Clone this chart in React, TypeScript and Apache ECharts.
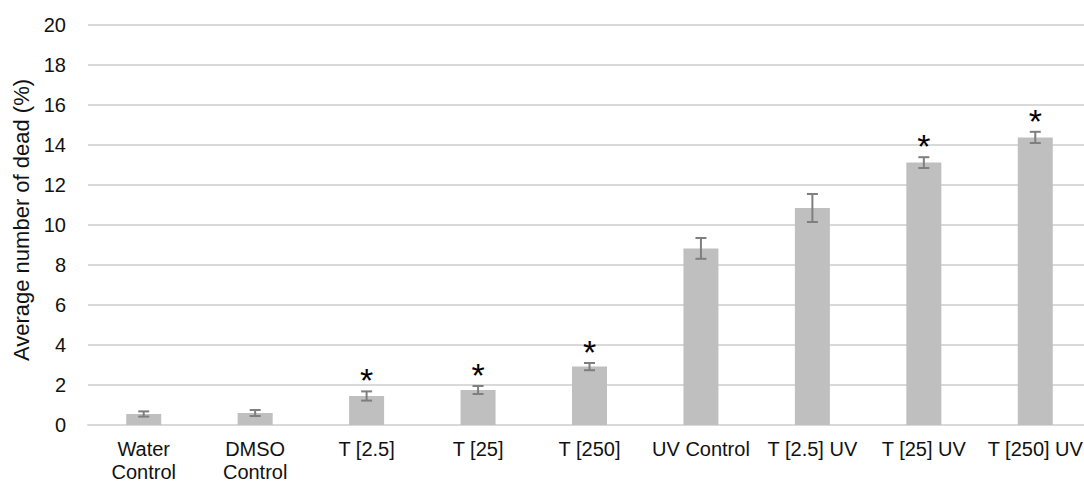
import React, { useEffect, useRef } from "react";
import * as echarts from "echarts";

const categories = [
  "Water\nControl",
  "DMSO\nControl",
  "T [2.5]",
  "T [25]",
  "T [250]",
  "UV Control",
  "T [2.5] UV",
  "T [25] UV",
  "T [250] UV",
];
const means = [0.55, 0.6, 1.45, 1.75, 2.92, 8.83, 10.85, 13.12, 14.38];
const errors = [0.13, 0.15, 0.23, 0.2, 0.18, 0.52, 0.7, 0.27, 0.28];
const significant = [false, false, true, true, true, false, false, true, true];
const yTicks = { min: 0, max: 20, interval: 2 };

const FONT = "Liberation Sans, Arial, sans-serif";

export default function App() {
  const ref = useRef<HTMLDivElement>(null);
  useEffect(() => {
    if (!ref.current) return;
    const chart = echarts.init(ref.current, undefined, { renderer: "svg" });
    const errData = means.map((m, i) => [i, m - errors[i], m + errors[i], significant[i] ? 1 : 0]);
    chart.setOption({
      animation: false,
      backgroundColor: "#ffffff",
      grid: {
        left: 88,
        right: -7,
        top: 25,
        bottom: 57,
        containLabel: false,
        outerBoundsMode: "none",
      },
      xAxis: {
        type: "category",
        data: categories,
        axisLine: { lineStyle: { color: "#d9d9d9", width: 2 } },
        axisTick: { show: false },
        axisLabel: {
          interval: 0,
          color: "#111111",
          fontSize: 20,
          fontFamily: FONT,
          lineHeight: 23,
          margin: 12,
        },
      },
      yAxis: {
        type: "value",
        min: yTicks.min,
        max: yTicks.max,
        interval: yTicks.interval,
        name: "Average number of dead (%)",
        nameLocation: "middle",
        nameGap: 55,
        nameRotate: 90,
        nameTextStyle: {
          color: "#111111",
          fontSize: 22,
          fontFamily: FONT,
          padding: [0, 0, 0, 10],
        },
        axisLine: { show: false },
        axisTick: { show: false },
        splitLine: { lineStyle: { color: "#d9d9d9", width: 2 } },
        axisLabel: {
          color: "#111111",
          fontSize: 20,
          fontFamily: FONT,
          margin: 22,
        },
      },
      series: [
        {
          type: "bar",
          data: means,
          barWidth: 35,
          itemStyle: { color: "#bfbfbf" },
          z: 2,
        },
        {
          type: "custom",
          data: errData,
          z: 5,
          renderItem: (params: any, api: any) => {
            const i = api.value(0);
            const lo = api.coord([i, api.value(1)]);
            const hi = api.coord([i, api.value(2)]);
            const x = lo[0];
            const hw = 5.5;
            const style = { stroke: "#7f7f7f", lineWidth: 2 };
            const children: any[] = [
              { type: "line", shape: { x1: x, y1: lo[1], x2: x, y2: hi[1] }, style },
              { type: "line", shape: { x1: x - hw, y1: lo[1], x2: x + hw, y2: lo[1] }, style },
              { type: "line", shape: { x1: x - hw, y1: hi[1], x2: x + hw, y2: hi[1] }, style },
            ];
            if (api.value(3) === 1) {
              children.push({
                type: "text",
                style: {
                  text: "*",
                  x: x,
                  y: hi[1] - 11,
                  fill: "#000000",
                  fontSize: 34,
                  fontFamily: FONT,
                  align: "center",
                  verticalAlign: "middle",
                },
              });
            }
            return { type: "group", children };
          },
        },
      ],
    });
    return () => chart.dispose();
  }, []);
  return (
    <div
      ref={ref}
      style={{ position: "fixed", left: 0, top: 0, width: 1084, height: 482 }}
    />
  );
}
